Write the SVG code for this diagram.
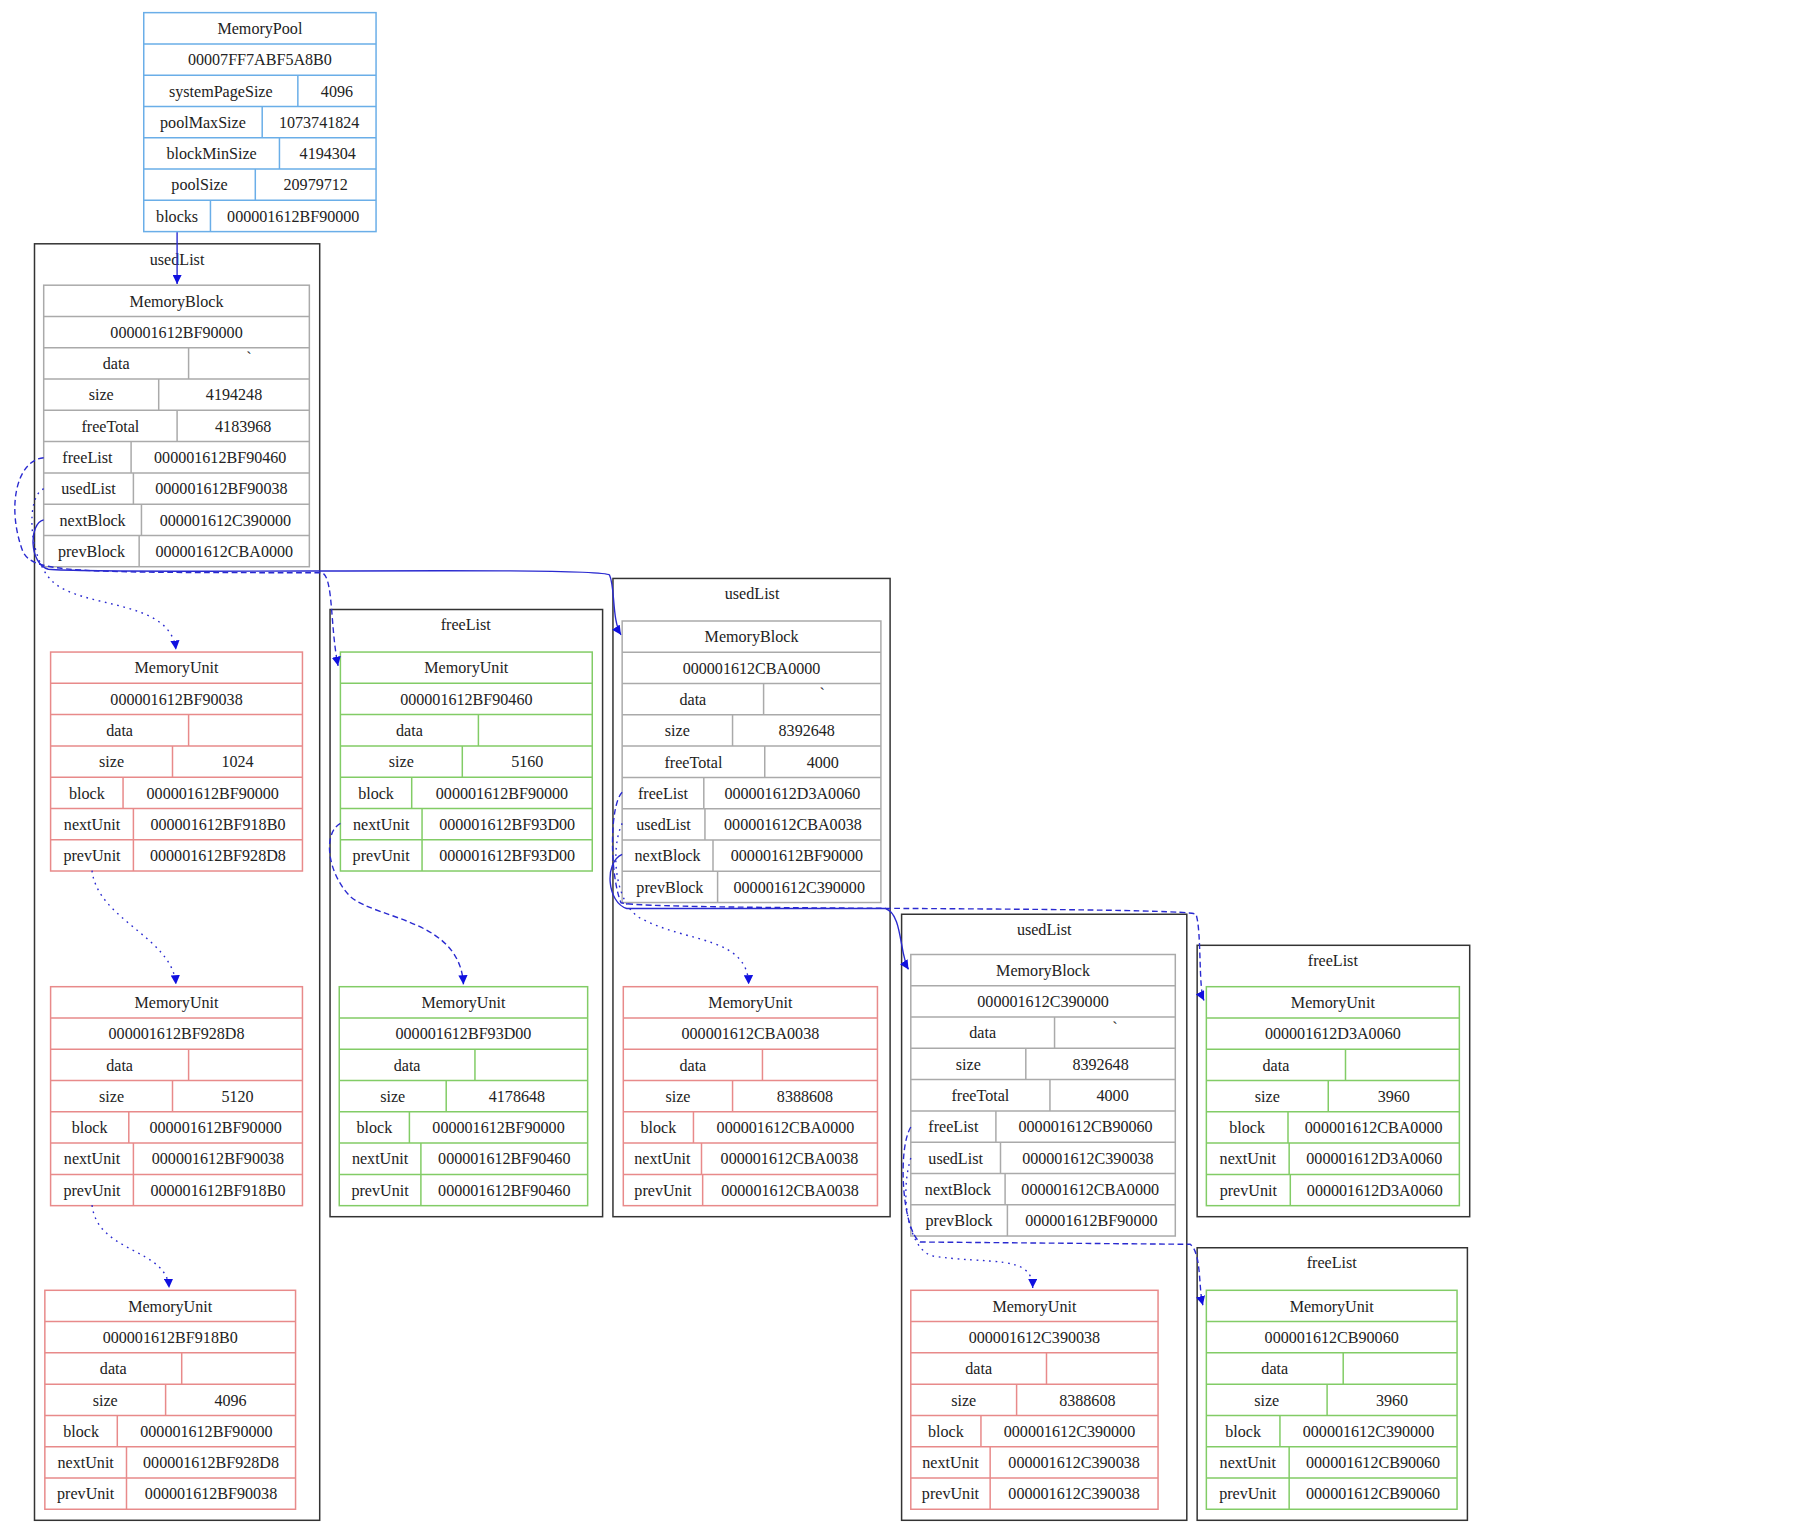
<svg xmlns="http://www.w3.org/2000/svg" width="1794" height="1538" viewBox="0 0 1794 1538">
<style>
text{font-family:"Liberation Serif","Times New Roman",serif;font-size:14px;fill:#222;text-anchor:middle}
.pool{fill:none;stroke:#6aaee8;stroke-width:1.3}
.blk{fill:none;stroke:#aaaaaa;stroke-width:1.3}
.red{fill:none;stroke:#e88a8a;stroke-width:1.3}
.grn{fill:none;stroke:#82cc66;stroke-width:1.3}
.cl{fill:none;stroke:#333;stroke-width:1.3}
.e{fill:none;stroke:#2a2ad0;stroke-width:1.2}
.dash{stroke-dasharray:5,3}
.dot{stroke-dasharray:1.5,4}
</style>
<defs>
<marker id="a" viewBox="0 0 10 10" refX="10" refY="5" markerWidth="8" markerHeight="8" markerUnits="userSpaceOnUse" orient="auto"><path d="M0,0L10,5L0,10z" fill="#1010e0"/></marker>
</defs>
<rect width="1794" height="1538" fill="#fff"/>
<g transform="scale(1.15)">
<g id="clusters">
<rect class="cl" x="30" y="212" width="248" height="1110"/><text x="154" y="230">usedList</text>
<rect class="cl" x="287" y="530" width="237" height="528"/><text x="405" y="548">freeList</text>
<rect class="cl" x="533" y="503" width="241" height="555"/><text x="654" y="521">usedList</text>
<rect class="cl" x="784" y="795" width="248" height="527"/><text x="908" y="813">usedList</text>
<rect class="cl" x="1041" y="822" width="237" height="236"/><text x="1159" y="840">freeList</text>
<rect class="cl" x="1041" y="1085" width="235" height="237"/><text x="1158" y="1103">freeList</text>
</g>
<g id="pool" transform="translate(125,11)">
<rect class="pool" width="202" height="190.4"/>
<path class="pool" d="M0,27.2H202M0,54.4H202M0,81.6H202M0,108.8H202M0,136H202M0,163.2H202M134,54.4V81.6M103,81.6V108.8M118,108.8V136M97,136V163.2M58,163.2V190.4"/>
<text x="101" y="18.6">MemoryPool</text><text x="101" y="45.8">00007FF7ABF5A8B0</text>
<text x="67" y="73">systemPageSize</text><text x="168" y="73">4096</text>
<text x="51.5" y="100.2">poolMaxSize</text><text x="152.5" y="100.2">1073741824</text>
<text x="59" y="127.4">blockMinSize</text><text x="160" y="127.4">4194304</text>
<text x="48.5" y="154.6">poolSize</text><text x="149.5" y="154.6">20979712</text>
<text x="29" y="181.8">blocks</text><text x="130" y="181.8">000001612BF90000</text>
</g>
<g id="block1" transform="translate(38,248)">
<rect class="blk" width="231" height="244.8"/>
<path class="blk" d="M0,27.2H231M0,54.4H231M0,81.6H231M0,108.8H231M0,136H231M0,163.2H231M0,190.4H231M0,217.6H231M126,54.4V81.6M100,81.6V108.8M116,108.8V136M76,136V163.2M78,163.2V190.4M85,190.4V217.6M83,217.6V244.8"/>
<text x="115.5" y="18.6">MemoryBlock</text><text x="115.5" y="45.8">000001612BF90000</text>
<text x="63" y="73">data</text><text x="178.5" y="68">`</text>
<text x="50" y="100.2">size</text><text x="165.5" y="100.2">4194248</text>
<text x="58" y="127.4">freeTotal</text><text x="173.5" y="127.4">4183968</text>
<text x="38" y="154.6">freeList</text><text x="153.5" y="154.6">000001612BF90460</text>
<text x="39" y="181.8">usedList</text><text x="154.5" y="181.8">000001612BF90038</text>
<text x="42.5" y="209">nextBlock</text><text x="158" y="209">000001612C390000</text>
<text x="41.5" y="236.2">prevBlock</text><text x="157" y="236.2">000001612CBA0000</text>
</g>
<g id="unit1" transform="translate(44,567)">
<rect class="red" width="219" height="190.4"/>
<path class="red" d="M0,27.2H219M0,54.4H219M0,81.6H219M0,108.8H219M0,136H219M0,163.2H219M120,54.4V81.6M106,81.6V108.8M63,108.8V136M72,136V163.2M72,163.2V190.4"/>
<text x="109.5" y="18.6">MemoryUnit</text><text x="109.5" y="45.8">000001612BF90038</text>
<text x="60" y="73">data</text>
<text x="53" y="100.2">size</text><text x="162.5" y="100.2">1024</text>
<text x="31.5" y="127.4">block</text><text x="141" y="127.4">000001612BF90000</text>
<text x="36" y="154.6">nextUnit</text><text x="145.5" y="154.6">000001612BF918B0</text>
<text x="36" y="181.8">prevUnit</text><text x="145.5" y="181.8">000001612BF928D8</text>
</g>
<g id="unit2" transform="translate(44,858)">
<rect class="red" width="219" height="190.4"/>
<path class="red" d="M0,27.2H219M0,54.4H219M0,81.6H219M0,108.8H219M0,136H219M0,163.2H219M120,54.4V81.6M106,81.6V108.8M68,108.8V136M72,136V163.2M72,163.2V190.4"/>
<text x="109.5" y="18.6">MemoryUnit</text><text x="109.5" y="45.8">000001612BF928D8</text>
<text x="60" y="73">data</text>
<text x="53" y="100.2">size</text><text x="162.5" y="100.2">5120</text>
<text x="34" y="127.4">block</text><text x="143.5" y="127.4">000001612BF90000</text>
<text x="36" y="154.6">nextUnit</text><text x="145.5" y="154.6">000001612BF90038</text>
<text x="36" y="181.8">prevUnit</text><text x="145.5" y="181.8">000001612BF918B0</text>
</g>
<g id="unit3" transform="translate(39,1122)">
<rect class="red" width="218" height="190.4"/>
<path class="red" d="M0,27.2H218M0,54.4H218M0,81.6H218M0,108.8H218M0,136H218M0,163.2H218M119,54.4V81.6M105,81.6V108.8M63,108.8V136M71,136V163.2M71,163.2V190.4"/>
<text x="109" y="18.6">MemoryUnit</text><text x="109" y="45.8">000001612BF918B0</text>
<text x="59.5" y="73">data</text>
<text x="52.5" y="100.2">size</text><text x="161.5" y="100.2">4096</text>
<text x="31.5" y="127.4">block</text><text x="140.5" y="127.4">000001612BF90000</text>
<text x="35.5" y="154.6">nextUnit</text><text x="144.5" y="154.6">000001612BF928D8</text>
<text x="35.5" y="181.8">prevUnit</text><text x="144.5" y="181.8">000001612BF90038</text>
</g>
<g id="green1" transform="translate(296,567)">
<rect class="grn" width="219" height="190.4"/>
<path class="grn" d="M0,27.2H219M0,54.4H219M0,81.6H219M0,108.8H219M0,136H219M0,163.2H219M120,54.4V81.6M106,81.6V108.8M62,108.8V136M71,136V163.2M71,163.2V190.4"/>
<text x="109.5" y="18.6">MemoryUnit</text><text x="109.5" y="45.8">000001612BF90460</text>
<text x="60" y="73">data</text>
<text x="53" y="100.2">size</text><text x="162.5" y="100.2">5160</text>
<text x="31" y="127.4">block</text><text x="140.5" y="127.4">000001612BF90000</text>
<text x="35.5" y="154.6">nextUnit</text><text x="145" y="154.6">000001612BF93D00</text>
<text x="35.5" y="181.8">prevUnit</text><text x="145" y="181.8">000001612BF93D00</text>
</g>
<g id="green2" transform="translate(295,858)">
<rect class="grn" width="216" height="190.4"/>
<path class="grn" d="M0,27.2H216M0,54.4H216M0,81.6H216M0,108.8H216M0,136H216M0,163.2H216M118,54.4V81.6M93,81.6V108.8M61,108.8V136M71,136V163.2M71,163.2V190.4"/>
<text x="108" y="18.6">MemoryUnit</text><text x="108" y="45.8">000001612BF93D00</text>
<text x="59" y="73">data</text>
<text x="46.5" y="100.2">size</text><text x="154.5" y="100.2">4178648</text>
<text x="30.5" y="127.4">block</text><text x="138.5" y="127.4">000001612BF90000</text>
<text x="35.5" y="154.6">nextUnit</text><text x="143.5" y="154.6">000001612BF90460</text>
<text x="35.5" y="181.8">prevUnit</text><text x="143.5" y="181.8">000001612BF90460</text>
</g>
<g id="block2" transform="translate(541,540)">
<rect class="blk" width="225" height="244.8"/>
<path class="blk" d="M0,27.2H225M0,54.4H225M0,81.6H225M0,108.8H225M0,136H225M0,163.2H225M0,190.4H225M0,217.6H225M123,54.4V81.6M96,81.6V108.8M124,108.8V136M71,136V163.2M72,163.2V190.4M79,190.4V217.6M83,217.6V244.8"/>
<text x="112.5" y="18.6">MemoryBlock</text><text x="112.5" y="45.8">000001612CBA0000</text>
<text x="61.5" y="73">data</text><text x="174" y="68">`</text>
<text x="48" y="100.2">size</text><text x="160.5" y="100.2">8392648</text>
<text x="62" y="127.4">freeTotal</text><text x="174.5" y="127.4">4000</text>
<text x="35.5" y="154.6">freeList</text><text x="148" y="154.6">000001612D3A0060</text>
<text x="36" y="181.8">usedList</text><text x="148.5" y="181.8">000001612CBA0038</text>
<text x="39.5" y="209">nextBlock</text><text x="152" y="209">000001612BF90000</text>
<text x="41.5" y="236.2">prevBlock</text><text x="154" y="236.2">000001612C390000</text>
</g>
<g id="unit4" transform="translate(542,858)">
<rect class="red" width="221" height="190.4"/>
<path class="red" d="M0,27.2H221M0,54.4H221M0,81.6H221M0,108.8H221M0,136H221M0,163.2H221M121,54.4V81.6M95,81.6V108.8M61,108.8V136M68,136V163.2M69,163.2V190.4"/>
<text x="110.5" y="18.6">MemoryUnit</text><text x="110.5" y="45.8">000001612CBA0038</text>
<text x="60.5" y="73">data</text>
<text x="47.5" y="100.2">size</text><text x="158" y="100.2">8388608</text>
<text x="30.5" y="127.4">block</text><text x="141" y="127.4">000001612CBA0000</text>
<text x="34" y="154.6">nextUnit</text><text x="144.5" y="154.6">000001612CBA0038</text>
<text x="34.5" y="181.8">prevUnit</text><text x="145" y="181.8">000001612CBA0038</text>
</g>
<g id="block3" transform="translate(792,830)">
<rect class="blk" width="230" height="244.8"/>
<path class="blk" d="M0,27.2H230M0,54.4H230M0,81.6H230M0,108.8H230M0,136H230M0,163.2H230M0,190.4H230M0,217.6H230M125,54.4V81.6M100,81.6V108.8M121,108.8V136M74,136V163.2M78,163.2V190.4M82,190.4V217.6M84,217.6V244.8"/>
<text x="115" y="18.6">MemoryBlock</text><text x="115" y="45.8">000001612C390000</text>
<text x="62.5" y="73">data</text><text x="177.5" y="68">`</text>
<text x="50" y="100.2">size</text><text x="165" y="100.2">8392648</text>
<text x="60.5" y="127.4">freeTotal</text><text x="175.5" y="127.4">4000</text>
<text x="37" y="154.6">freeList</text><text x="152" y="154.6">000001612CB90060</text>
<text x="39" y="181.8">usedList</text><text x="154" y="181.8">000001612C390038</text>
<text x="41" y="209">nextBlock</text><text x="156" y="209">000001612CBA0000</text>
<text x="42" y="236.2">prevBlock</text><text x="157" y="236.2">000001612BF90000</text>
</g>
<g id="unit5" transform="translate(792,1122)">
<rect class="red" width="215" height="190.4"/>
<path class="red" d="M0,27.2H215M0,54.4H215M0,81.6H215M0,108.8H215M0,136H215M0,163.2H215M118,54.4V81.6M92,81.6V108.8M61,108.8V136M69,136V163.2M69,163.2V190.4"/>
<text x="107.5" y="18.6">MemoryUnit</text><text x="107.5" y="45.8">000001612C390038</text>
<text x="59" y="73">data</text>
<text x="46" y="100.2">size</text><text x="153.5" y="100.2">8388608</text>
<text x="30.5" y="127.4">block</text><text x="138" y="127.4">000001612C390000</text>
<text x="34.5" y="154.6">nextUnit</text><text x="142" y="154.6">000001612C390038</text>
<text x="34.5" y="181.8">prevUnit</text><text x="142" y="181.8">000001612C390038</text>
</g>
<g id="green3" transform="translate(1049,858)">
<rect class="grn" width="220" height="190.4"/>
<path class="grn" d="M0,27.2H220M0,54.4H220M0,81.6H220M0,108.8H220M0,136H220M0,163.2H220M121,54.4V81.6M106,81.6V108.8M71,108.8V136M72,136V163.2M73,163.2V190.4"/>
<text x="110" y="18.6">MemoryUnit</text><text x="110" y="45.8">000001612D3A0060</text>
<text x="60.5" y="73">data</text>
<text x="53" y="100.2">size</text><text x="163" y="100.2">3960</text>
<text x="35.5" y="127.4">block</text><text x="145.5" y="127.4">000001612CBA0000</text>
<text x="36" y="154.6">nextUnit</text><text x="146" y="154.6">000001612D3A0060</text>
<text x="36.5" y="181.8">prevUnit</text><text x="146.5" y="181.8">000001612D3A0060</text>
</g>
<g id="green4" transform="translate(1049,1122)">
<rect class="grn" width="218" height="190.4"/>
<path class="grn" d="M0,27.2H218M0,54.4H218M0,81.6H218M0,108.8H218M0,136H218M0,163.2H218M119,54.4V81.6M105,81.6V108.8M64,108.8V136M72,136V163.2M72,163.2V190.4"/>
<text x="109" y="18.6">MemoryUnit</text><text x="109" y="45.8">000001612CB90060</text>
<text x="59.5" y="73">data</text>
<text x="52.5" y="100.2">size</text><text x="161.5" y="100.2">3960</text>
<text x="32" y="127.4">block</text><text x="141" y="127.4">000001612C390000</text>
<text x="36" y="154.6">nextUnit</text><text x="145" y="154.6">000001612CB90060</text>
<text x="36" y="181.8">prevUnit</text><text x="145" y="181.8">000001612CB90060</text>
</g>
<g id="edges">
<path class="e" marker-end="url(#a)" d="M154,202V247"/>
<path class="e dash" marker-end="url(#a)" d="M38,398C15,400 5,440 20,480C30,498 60,498 280,498C290,502 287,545 294,579"/>
<path class="e dot" marker-end="url(#a)" d="M38,425C22,432 25,485 45,505C70,530 148,520 153,565"/>
<path class="e" marker-end="url(#a)" d="M38,452C25,455 25,490 42,495C100,500 520,492 530,500C535,510 532,540 540,552"/>
<path class="e dot" marker-end="url(#a)" d="M80,757C85,800 150,815 153,856"/>
<path class="e dot" marker-end="url(#a)" d="M80,1048C85,1090 145,1085 147,1120"/>
<path class="e dash" marker-end="url(#a)" d="M296,716C280,725 285,760 305,780C330,800 400,800 403,856"/>
<path class="e dash" marker-end="url(#a)" d="M541,689C530,700 530,760 540,785C560,792 1030,788 1040,795C1045,810 1042,860 1047,870"/>
<path class="e dot" marker-end="url(#a)" d="M541,716C530,740 535,790 560,800C600,820 650,815 651,856"/>
<path class="e" marker-end="url(#a)" d="M541,743C525,750 528,785 545,790L770,790C785,795 782,830 790,843"/>
<path class="e dash" marker-end="url(#a)" d="M792,980C780,1000 785,1070 800,1080L1035,1082C1045,1090 1042,1120 1046,1135"/>
<path class="e dot" marker-end="url(#a)" d="M792,1007C782,1040 790,1085 810,1092C860,1100 898,1090 898,1120"/>
</g>
</g>
</svg>
